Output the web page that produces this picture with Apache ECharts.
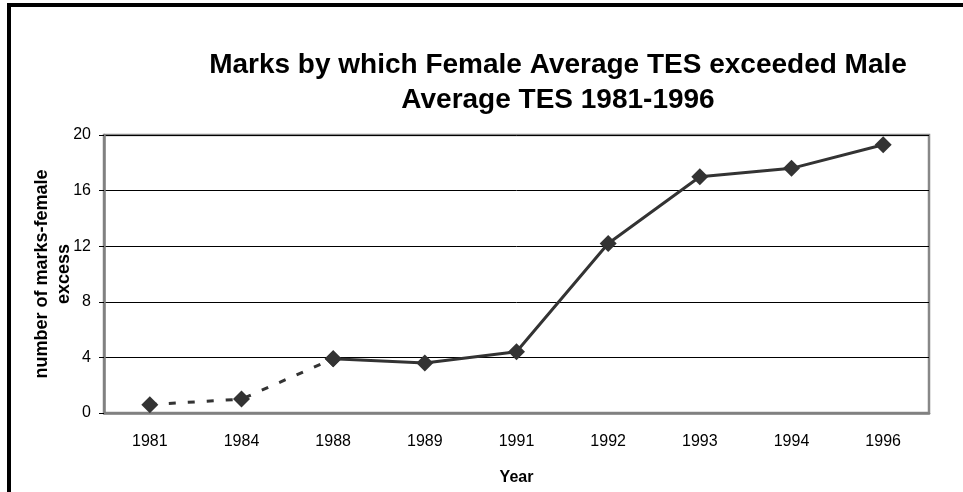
<!DOCTYPE html>
<html>
<head>
    <meta charset="utf-8">
    <title>TES excess</title>
    <script src="https://cdn.jsdelivr.net/npm/echarts@6/dist/echarts.min.js"></script>
</head>
<body style="margin: 0">
<div id="main" style="width: 963px; height: 492px"></div>
<script type="text/javascript">
    // values
    var years = ['1981', '1984', '1988', '1989', '1991', '1992', '1993', '1994', '1996'];
    var excess = [0.6, 1.0, 3.9, 3.6, 4.4, 12.2, 17.0, 17.6, 19.3];
    var yTicks = [0, 4, 8, 12, 16, 20];

    // dashed part runs up to 1988, solid from there on
    var splitAt = years.indexOf('1988');
    var dashedPart = excess.map(function (v, i) { return i <= splitAt ? v : '-'; });
    var solidPart = excess.map(function (v, i) { return i >= splitAt ? v : '-'; });

    var font = 'Liberation Sans, Arial, sans-serif';
    var myChart = echarts.init(document.getElementById('main'));

    myChart.setOption({
        backgroundColor: '#fff',
        animation: false,
        title: {
            text: 'Marks by which Female Average TES exceeded Male\nAverage TES 1981-1996',
            left: 553,
            top: 43,
            textAlign: 'center',
            textStyle: {
                fontFamily: font,
                fontSize: 28,
                fontWeight: 'bold',
                color: '#000',
                lineHeight: 35
            }
        },
        graphic: [
            { type: 'rect', shape: { x: 7, y: 3, width: 956, height: 4 }, style: { fill: '#000' } },
            { type: 'rect', shape: { x: 7, y: 3, width: 4, height: 489 }, style: { fill: '#000' } }
        ],
        grid: {
            left: 104,
            right: 34,
            top: 135,
            bottom: 79,
            show: true,
            borderColor: '#888',
            borderWidth: 2.5
        },
        xAxis: {
            type: 'category',
            data: years,
            boundaryGap: true,
            name: 'Year',
            nameLocation: 'middle',
            nameGap: 57,
            nameMoveOverlap: false,
            nameTextStyle: { fontFamily: font, fontSize: 16, fontWeight: 'bold', color: '#000' },
            axisLine: { lineStyle: { color: '#808080', width: 2.5 } },
            axisTick: { alignWithLabel: false, length: 6, lineStyle: { color: '#000' } },
            axisLabel: { fontFamily: font, fontSize: 16, color: '#000', margin: 21 },
            splitLine: { show: false }
        },
        yAxis: {
            type: 'value',
            min: yTicks[0],
            max: yTicks[yTicks.length - 1],
            interval: 4,
            name: 'number of marks-female\nexcess',
            nameLocation: 'middle',
            nameGap: 29,
            nameMoveOverlap: false,
            nameTextStyle: { fontFamily: font, fontSize: 18, fontWeight: 'bold', color: '#000', lineHeight: 22 },
            axisLine: { show: true, lineStyle: { color: '#808080', width: 2.5 } },
            axisTick: { show: true, length: 5, lineStyle: { color: '#000' } },
            axisLabel: { fontFamily: font, fontSize: 16, color: '#000', margin: 13 },
            splitLine: { lineStyle: { color: '#000', width: 1 } }
        },
        series: [
            {
                type: 'line',
                data: dashedPart,
                symbol: 'diamond',
                symbolSize: 17,
                itemStyle: { color: '#333' },
                lineStyle: { color: '#333', width: 3, type: [7, 12] },
                z: 3
            },
            {
                type: 'line',
                data: solidPart,
                symbol: 'diamond',
                symbolSize: 17,
                itemStyle: { color: '#333' },
                lineStyle: { color: '#333', width: 3 },
                z: 4
            }
        ]
    });
</script>
</body>
</html>
